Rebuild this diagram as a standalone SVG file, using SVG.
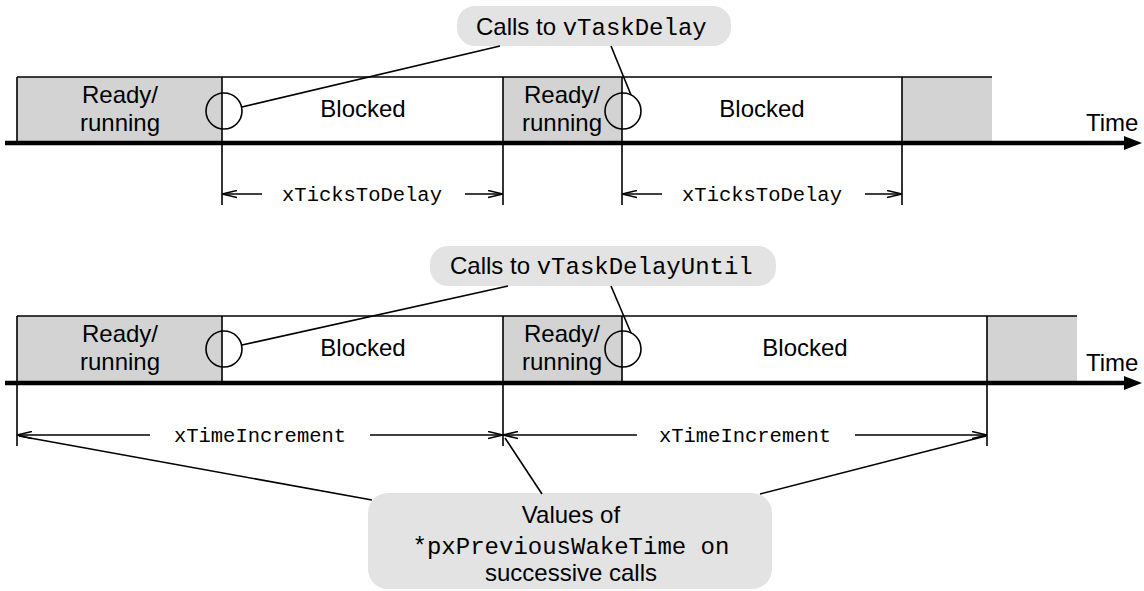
<svg xmlns="http://www.w3.org/2000/svg" width="1144" height="591" viewBox="0 0 1144 591">
  <defs>
    <style>
      .sans { font-family: "Liberation Sans", Arial, sans-serif; font-size: 24px; fill: #000; }
      .mono { font-family: "Liberation Mono", "Courier New", monospace; font-size: 24px; fill: #000; }
      .dimtext { font-family: "Liberation Mono", "Courier New", monospace; font-size: 20.5px; fill: #000; }
      .ready { fill: #d3d3d3; stroke: none; }
      .blocked { fill: #fff; stroke: none; }
      .edge { stroke: #000; stroke-width: 1.6; fill: none; }
      .axis { stroke: #000; stroke-width: 4.5; fill: none; }
      .call { fill: #e3e3e3; stroke: none; }
      .lead { stroke: #000; stroke-width: 1.6; fill: none; }
      .mark { fill: none; stroke: #000; stroke-width: 1.6; }
      .dim { stroke: #000; stroke-width: 1.6; fill: none; }
    </style>
    <marker id="timeHead" markerWidth="18" markerHeight="16" refX="0" refY="8" orient="auto" markerUnits="userSpaceOnUse" viewBox="0 0 18 16">
      <path d="M0,1 L18,8 L0,15 Z" fill="#000"/>
    </marker>
    <marker id="dimHead" markerWidth="15" markerHeight="9" refX="15" refY="4.5" orient="auto" markerUnits="userSpaceOnUse" viewBox="0 0 15 9">
      <path d="M0,1 L15,4.5 L0,8" fill="none" stroke="#000" stroke-width="1.6"/>
    </marker>
  </defs>

  <!-- ===== vTaskDelay timeline ===== -->
  <g id="delay-states">
    <rect class="ready" x="17" y="77" width="205" height="66"/>
    <rect class="blocked" x="222" y="77" width="281" height="66"/>
    <rect class="ready" x="503" y="77" width="119" height="66"/>
    <rect class="blocked" x="622" y="77" width="280" height="66"/>
    <rect class="ready" x="902" y="77" width="90" height="66"/>
    <line class="edge" x1="17" y1="77" x2="992" y2="77"/>
    <line class="edge" x1="17" y1="77" x2="17" y2="143"/>
    <line class="edge" x1="222" y1="77" x2="222" y2="205"/>
    <line class="edge" x1="503" y1="77" x2="503" y2="205"/>
    <line class="edge" x1="622" y1="77" x2="622" y2="205"/>
    <line class="edge" x1="902" y1="77" x2="902" y2="205"/>
  </g>
  <g id="delay-labels">
    <text class="sans" text-anchor="middle" x="120" y="103">Ready/</text>
    <text class="sans" text-anchor="middle" x="120" y="131">running</text>
    <text class="sans" text-anchor="middle" x="363" y="117">Blocked</text>
    <text class="sans" text-anchor="middle" x="562" y="103">Ready/</text>
    <text class="sans" text-anchor="middle" x="562" y="131">running</text>
    <text class="sans" text-anchor="middle" x="762" y="117">Blocked</text>
    <text class="sans" x="1086" y="131">Time</text>
  </g>
  <g id="delay-axis">
    <line class="axis" x1="5" y1="143" x2="1124" y2="143" marker-end="url(#timeHead)"/>
  </g>
  <g id="delay-callout">
    <rect class="call" x="457" y="6" width="274" height="40" rx="18"/>
    <text x="476" y="35"><tspan class="sans">Calls to </tspan><tspan class="mono">vTaskDelay</tspan></text>
    <circle class="mark" cx="224" cy="111" r="18"/>
    <circle class="mark" cx="623" cy="111" r="18"/>
  </g>

  <!-- ===== vTaskDelayUntil timeline ===== -->
  <g id="until-states">
    <rect class="ready" x="17" y="316" width="205" height="67"/>
    <rect class="blocked" x="222" y="316" width="281" height="67"/>
    <rect class="ready" x="503" y="316" width="119" height="67"/>
    <rect class="blocked" x="622" y="316" width="365" height="67"/>
    <rect class="ready" x="987" y="316" width="90" height="67"/>
    <line class="edge" x1="17" y1="316" x2="1077" y2="316"/>
    <line class="edge" x1="17" y1="316" x2="17" y2="446"/>
    <line class="edge" x1="222" y1="316" x2="222" y2="383"/>
    <line class="edge" x1="503" y1="316" x2="503" y2="446"/>
    <line class="edge" x1="622" y1="316" x2="622" y2="383"/>
    <line class="edge" x1="987" y1="316" x2="987" y2="446"/>
  </g>
  <g id="until-labels">
    <text class="sans" text-anchor="middle" x="120" y="342">Ready/</text>
    <text class="sans" text-anchor="middle" x="120" y="370">running</text>
    <text class="sans" text-anchor="middle" x="363" y="356">Blocked</text>
    <text class="sans" text-anchor="middle" x="562" y="342">Ready/</text>
    <text class="sans" text-anchor="middle" x="562" y="370">running</text>
    <text class="sans" text-anchor="middle" x="805" y="356">Blocked</text>
    <text class="sans" x="1086" y="371">Time</text>
  </g>
  <g id="until-axis">
    <line class="axis" x1="5" y1="383" x2="1124" y2="383" marker-end="url(#timeHead)"/>
  </g>
  <g id="until-callout">
    <rect class="call" x="430" y="246" width="346" height="40" rx="18"/>
    <text x="450" y="274"><tspan class="sans">Calls to </tspan><tspan class="mono">vTaskDelayUntil</tspan></text>
    <circle class="mark" cx="224" cy="349" r="18"/>
    <circle class="mark" cx="623" cy="349" r="18"/>
  </g>
  <g id="wake-callout">
    <rect class="call" x="368" y="493" width="404" height="96" rx="20"/>
    <text class="sans" text-anchor="middle" x="571" y="523">Values of</text>
    <text class="mono" text-anchor="middle" x="571" y="554">*pxPreviousWakeTime on</text>
    <text class="sans" text-anchor="middle" x="571" y="581">successive calls</text>
  </g>

  <!-- ===== connectors and dimension lines ===== -->
  <g id="connectors">
    <line class="lead" x1="500" y1="46" x2="242" y2="107"/>
    <line class="lead" x1="611" y1="46" x2="631" y2="95"/>
    <line class="lead" x1="508" y1="286" x2="242" y2="345"/>
    <line class="lead" x1="611" y1="286" x2="631" y2="333"/>
    <line class="lead" x1="19" y1="436" x2="372" y2="500"/>
    <line class="lead" x1="505" y1="438" x2="542" y2="494"/>
    <line class="lead" x1="986" y1="436" x2="760" y2="494"/>

    <line class="dim" x1="262" y1="194" x2="222" y2="194" marker-end="url(#dimHead)"/>
    <text class="dimtext" text-anchor="middle" x="362" y="201">xTicksToDelay</text>
    <line class="dim" x1="465" y1="194" x2="503" y2="194" marker-end="url(#dimHead)"/>
    <line class="dim" x1="662" y1="194" x2="622" y2="194" marker-end="url(#dimHead)"/>
    <text class="dimtext" text-anchor="middle" x="762" y="201">xTicksToDelay</text>
    <line class="dim" x1="865" y1="194" x2="902" y2="194" marker-end="url(#dimHead)"/>

    <line class="dim" x1="150" y1="435" x2="17" y2="435" marker-end="url(#dimHead)"/>
    <text class="dimtext" text-anchor="middle" x="260" y="442">xTimeIncrement</text>
    <line class="dim" x1="370" y1="435" x2="503" y2="435" marker-end="url(#dimHead)"/>
    <line class="dim" x1="637" y1="435" x2="503" y2="435" marker-end="url(#dimHead)"/>
    <text class="dimtext" text-anchor="middle" x="745" y="442">xTimeIncrement</text>
    <line class="dim" x1="855" y1="435" x2="987" y2="435" marker-end="url(#dimHead)"/>
  </g>
</svg>
